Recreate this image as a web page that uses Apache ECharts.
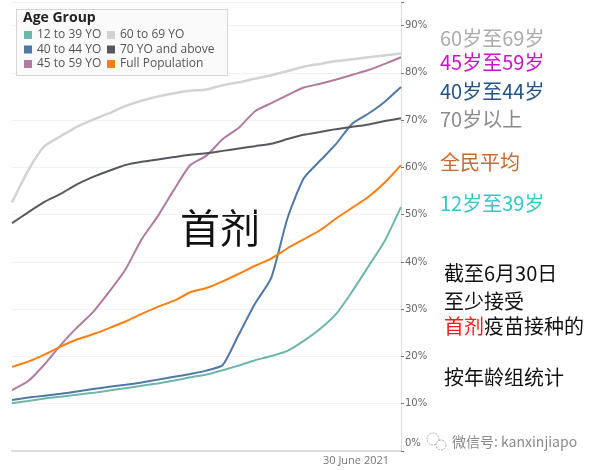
<!DOCTYPE html>
<html><head><meta charset="utf-8">
<script src="https://cdn.jsdelivr.net/npm/echarts@6/dist/echarts.min.js"></script>
<style>html,body{margin:0;padding:0;background:#fff}#c{width:601px;height:470px}</style>
</head><body><div id="c"></div>
<script>
const days = Array.from({length: 25}, (_, i) => 'D' + (i + 1));
const seriesNames = ['12 to 39 YO', '40 to 44 YO', '45 to 59 YO', '60 to 69 YO', '70 YO and above', 'Full Population'];
const age12to39 = [10.1,10.6,11.1,11.5,11.9,12.3,12.8,13.3,13.8,14.3,14.9,15.6,16.2,17.1,18.1,19.2,20.1,21.2,23.3,25.8,29.0,33.8,39.1,44.5,51.6];
const age40to44 = [10.8,11.3,11.7,12.1,12.6,13.1,13.6,14.0,14.5,15.1,15.7,16.3,17.0,18.2,24.7,31.2,36.7,49.3,57.7,61.4,65.0,69.3,71.4,73.9,77.0];
const age45to59 = [12.9,14.8,18.3,22.4,26.1,29.4,33.7,38.4,44.8,49.7,55.3,60.5,62.5,66.0,68.4,71.9,73.6,75.3,76.9,77.7,78.6,79.6,80.6,81.9,83.3];
const age60to69 = [52.6,59.4,64.5,66.6,68.6,70.1,71.5,73.0,74.1,75.0,75.7,76.2,76.5,77.4,78.0,78.8,79.5,80.4,81.3,81.9,82.5,82.9,83.3,83.7,84.1];
const age70plus = [48.2,50.5,52.7,54.4,56.4,58.0,59.3,60.5,61.2,61.7,62.2,62.7,63.0,63.5,64.0,64.5,65.0,66.0,66.9,67.5,68.1,68.6,69.1,69.8,70.4];
const fullPop = [17.8,18.9,20.4,22.1,23.6,24.7,26.0,27.4,29.0,30.5,31.8,33.6,34.5,35.9,37.5,39.2,40.7,42.9,44.8,46.7,49.2,51.5,53.8,56.8,60.5];
const colors = ['#6db6ab', '#4e79a7', '#b07aa1', '#d3d3d3', '#55595f', '#ff7f0e'];
const allData = [age12to39, age40to44, age45to59, age60to69, age70plus, fullPop];
const xLabel = '30 June 2021';
const sideLabels = ['60岁至69岁', '45岁至59岁', '40岁至44岁', '70岁以上', '全民平均', '12岁至39岁'];

const chart = echarts.init(document.getElementById('c'));
const cjk = '"Noto Sans CJK SC", sans-serif';
const sideColors = ['#acacac', '#cc11cc', '#24558a', '#8a8a8a', '#cc6a2c', '#36c6c8'];
const sideY = [38, 62, 91, 119, 162, 203];
const graphics = [
  {type: 'rect', left: 16, top: 9, z: 10, shape: {width: 211, height: 66},
   style: {fill: '#fafafa', stroke: '#b0b0b0', lineWidth: 1, lineDash: [1, 1]}},
  {type: 'text', x: 23, y: 18, z: 11, style: {text: 'Age Group', font: 'bold 14px "Open Sans", sans-serif', fill: '#222', textVerticalAlign: 'middle'}},
  {type: 'text', x: 220, y: 228, style: {text: '首剂', font: '40px ' + cjk, fill: '#111', textAlign: 'center', textVerticalAlign: 'middle'}},
  {type: 'text', x: 356, y: 461, style: {text: xLabel, font: '11px "Open Sans", sans-serif', fill: '#777', textAlign: 'center', textVerticalAlign: 'middle'}},
  {type: 'text', x: 444, y: 273, style: {text: '截至6月30日', font: '20px ' + cjk, fill: '#111', textVerticalAlign: 'middle'}},
  {type: 'text', x: 444, y: 301, style: {text: '至少接受', font: '20px ' + cjk, fill: '#111', textVerticalAlign: 'middle'}},
  {type: 'text', x: 444, y: 326, style: {text: '{r|首剂}疫苗接种的', font: '20px ' + cjk, fill: '#111', textVerticalAlign: 'middle',
    rich: {r: {fill: '#ff1a1a', color: '#ff1a1a', font: '20px ' + cjk}}}},
  {type: 'text', x: 444, y: 377, style: {text: '按年龄组统计', font: '20px ' + cjk, fill: '#111', textVerticalAlign: 'middle'}},
  {type: 'text', x: 452, y: 442, style: {text: '微信号: kanxinjiapo', font: '14px ' + cjk, fill: '#8a8a8a', textVerticalAlign: 'middle'}},
  {type: 'circle', shape: {cx: 433, cy: 439, r: 6}, style: {fill: 'none', stroke: '#aaa', lineWidth: 1, lineDash: [2, 1]}},
  {type: 'circle', shape: {cx: 441, cy: 445, r: 5}, style: {fill: '#fff', stroke: '#aaa', lineWidth: 1, lineDash: [2, 1]}}
];
sideLabels.forEach((t, i) => {
  graphics.push({type: 'text', x: 440, y: sideY[i], style: {text: t, font: '20px ' + cjk, fill: sideColors[i], textVerticalAlign: 'middle'}});
});

const legendText = {fontSize: 12, color: '#555', lineHeight: 12, fontFamily: '"Open Sans", sans-serif'};
chart.setOption({
  animation: false,
  color: colors,
  grid: {left: 12, right: 200, top: 2, bottom: 19},
  legend: [
    {data: seriesNames.slice(0, 3), orient: 'vertical', left: 24, top: 29, padding: 0, itemWidth: 8, itemHeight: 8, itemGap: 2.5, icon: 'rect', selectedMode: false, z: 12, textStyle: legendText},
    {data: seriesNames.slice(3), orient: 'vertical', left: 107, top: 29, padding: 0, itemWidth: 8, itemHeight: 8, itemGap: 2.5, icon: 'rect', selectedMode: false, z: 12, textStyle: legendText}
  ],
  xAxis: {type: 'category', data: days, boundaryGap: false,
    axisLine: {lineStyle: {color: '#dcdcdc', width: 2}}, axisTick: {show: false}, axisLabel: {show: false}, splitLine: {show: false}},
  yAxis: {type: 'value', position: 'right', min: 0, max: 95, interval: 10,
    axisLine: {show: true, lineStyle: {color: '#dddddd', width: 1}},
    axisTick: {show: true, length: 3, lineStyle: {color: '#777'}},
    axisLabel: {margin: 4, fontSize: 10, color: '#666', fontFamily: '"DejaVu Sans", sans-serif',
      formatter: v => (v % 10 === 0 ? (v === 0 ? '{z|0%}' : v + '%') : ''),
      rich: {z: {fontSize: 10, color: '#666', fontFamily: '"DejaVu Sans", sans-serif', padding: [0, 0, 16, 0]}}},
    splitLine: {show: true, lineStyle: {color: '#f2f2f2', width: 1}}},
  graphic: graphics,
  series: seriesNames.map((n, i) => ({
    name: n, type: 'line', data: allData[i], showSymbol: false, smooth: 0.2,
    lineStyle: {width: i === 3 ? 2.5 : 2, color: colors[i]}, z: 2 + i
  }))
});
</script></body></html>
